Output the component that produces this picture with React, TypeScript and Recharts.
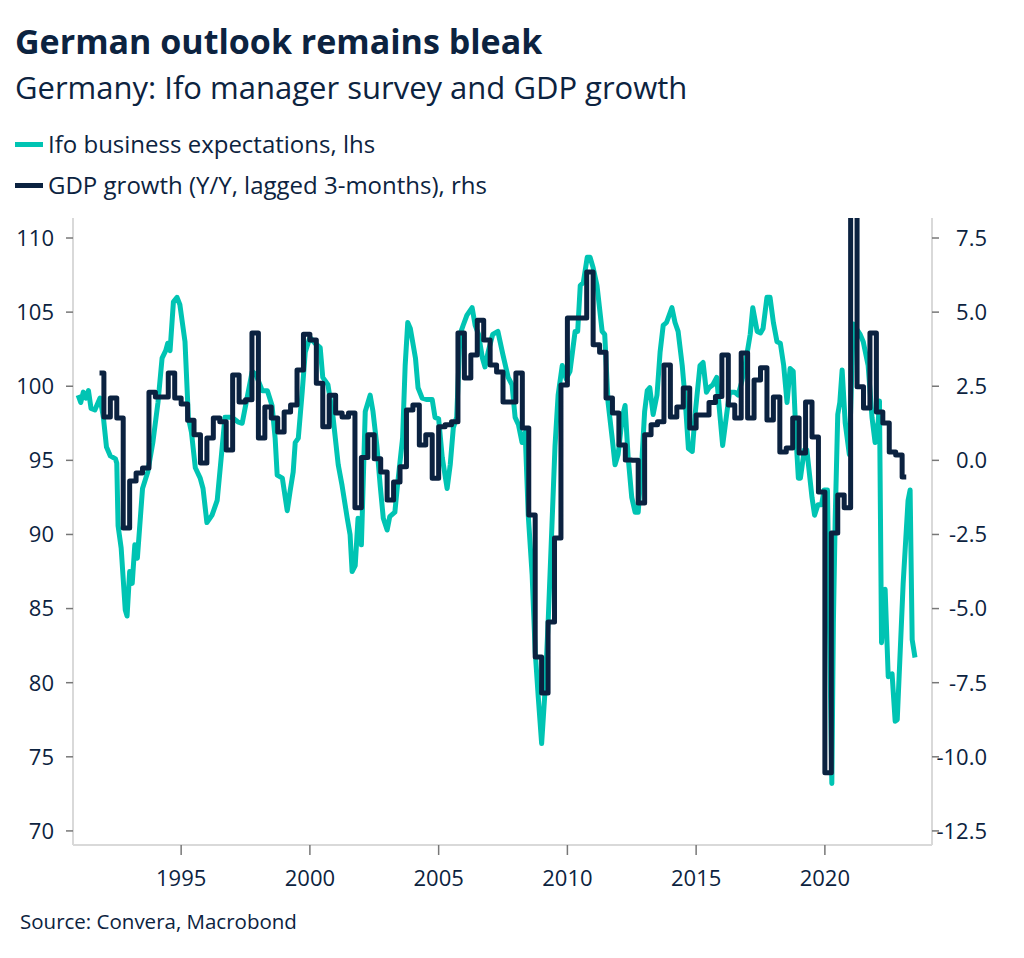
import { LineChart, Line, XAxis, YAxis } from "recharts";

// Ifo business expectations (lhs) at irregular dates
const ifoDates = [
  1991.0, 1991.1, 1991.2, 1991.3, 1991.4, 1991.5, 1991.65, 1991.85, 1991.98, 1992.1,
  1992.25, 1992.45, 1992.5, 1992.55, 1992.67, 1992.83, 1992.9, 1993.0, 1993.1, 1993.2,
  1993.3, 1993.5, 1993.7, 1993.9, 1994.1, 1994.26, 1994.4, 1994.48, 1994.57, 1994.7,
  1994.84, 1994.95, 1995.15, 1995.28, 1995.4, 1995.55, 1995.74, 1995.85, 1996.0, 1996.2,
  1996.4, 1996.6, 1996.7, 1996.98, 1997.2, 1997.37, 1997.56, 1997.76, 1997.9, 1998.15,
  1998.35, 1998.53, 1998.65, 1998.73, 1998.93, 1999.12, 1999.23, 1999.35, 1999.43, 1999.55,
  1999.7, 1999.82, 2000.0, 2000.2, 2000.4, 2000.5, 2000.7, 2000.9, 2001.1, 2001.25,
  2001.45, 2001.56, 2001.64, 2001.76, 2001.87, 2002.0, 2002.15, 2002.34, 2002.45, 2002.6,
  2002.73, 2002.85, 2003.0, 2003.1, 2003.3, 2003.4, 2003.6, 2003.7, 2003.8, 2003.9,
  2004.1, 2004.2, 2004.36, 2004.55, 2004.75, 2004.86, 2005.0, 2005.14, 2005.33, 2005.45,
  2005.57, 2005.7, 2005.83, 2005.95, 2006.1, 2006.3, 2006.42, 2006.55, 2006.7, 2006.8,
  2006.92, 2007.1, 2007.3, 2007.5, 2007.7, 2007.85, 2007.97, 2008.1, 2008.24, 2008.36,
  2008.48, 2008.63, 2008.75, 2008.87, 2009.0, 2009.13, 2009.26, 2009.4, 2009.52, 2009.64,
  2009.8, 2009.95, 2010.1, 2010.3, 2010.4, 2010.5, 2010.62, 2010.77, 2010.88, 2011.0,
  2011.15, 2011.35, 2011.45, 2011.58, 2011.74, 2011.85, 2011.97, 2012.13, 2012.24, 2012.36,
  2012.5, 2012.63, 2012.75, 2012.9, 2013.0, 2013.1, 2013.2, 2013.33, 2013.48, 2013.6,
  2013.72, 2013.85, 2014.06, 2014.18, 2014.3, 2014.46, 2014.57, 2014.7, 2014.85, 2014.96,
  2015.15, 2015.27, 2015.4, 2015.5, 2015.65, 2015.8, 2015.9, 2016.03, 2016.2, 2016.3,
  2016.5, 2016.63, 2016.77, 2016.9, 2017.1, 2017.2, 2017.37, 2017.5, 2017.6, 2017.75,
  2017.87, 2018.0, 2018.14, 2018.27, 2018.4, 2018.53, 2018.65, 2018.77, 2018.88, 2018.97,
  2019.05, 2019.2, 2019.3, 2019.5, 2019.6, 2019.73, 2019.87, 2019.97, 2020.1, 2020.27,
  2020.33, 2020.4, 2020.5, 2020.58, 2020.67, 2020.79, 2020.95, 2021.1, 2021.37, 2021.49,
  2021.68, 2021.83, 2021.95, 2022.07, 2022.12, 2022.2, 2022.34, 2022.46, 2022.61, 2022.73,
  2022.81, 2023.04, 2023.23, 2023.31, 2023.39, 2023.5,
];
const ifoValues = [
  99.4, 98.9, 99.6, 99.2, 99.7, 98.5, 98.4, 99.2, 97.9, 95.9,
  95.3, 95.1, 94.8, 90.6, 89.1, 84.9, 84.5, 87.5, 86.7, 89.3,
  88.4, 93.1, 94.2, 96.2, 98.9, 101.9, 102.4, 102.9, 102.4, 105.7,
  106.0, 105.5, 103.0, 97.9, 96.9, 94.5, 93.8, 93.1, 90.8, 91.3,
  92.3, 96.0, 97.9, 97.9, 97.6, 97.5, 99.2, 101.0, 100.8, 99.7,
  99.7, 98.7, 96.5, 94.0, 93.8, 91.6, 92.9, 94.2, 96.2, 96.5,
  99.6, 102.3, 103.3, 102.9, 102.6, 100.6, 100.1, 97.9, 94.7, 93.3,
  91.1, 90.0, 87.5, 87.9, 91.1, 89.3, 98.3, 99.4, 98.3, 96.0,
  93.3, 91.1, 90.3, 91.2, 91.5, 93.3, 96.5, 101.4, 104.3, 103.9,
  101.9, 99.9, 99.2, 99.1, 99.1, 97.9, 97.8, 95.2, 93.1, 94.7,
  97.2, 97.9, 103.5, 104.1, 104.8, 105.3, 104.1, 103.5, 101.9, 101.3,
  102.3, 103.5, 103.7, 102.1, 100.6, 100.1, 97.9, 97.4, 96.2, 96.9,
  91.3, 87.3, 82.1, 79.0, 75.9, 79.4, 84.4, 90.6, 96.0, 99.4,
  101.4, 100.5, 101.0, 103.7, 103.7, 106.8, 107.0, 108.7, 108.7, 108.0,
  106.8, 103.7, 103.5, 98.9, 96.5, 94.7, 95.4, 97.9, 98.7, 95.2,
  92.5, 91.5, 91.5, 95.2, 98.3, 99.7, 99.9, 98.1, 99.4, 102.3,
  104.1, 104.3, 105.3, 104.3, 103.7, 101.4, 99.2, 95.8, 95.6, 98.1,
  101.4, 101.6, 99.6, 99.9, 100.1, 100.6, 98.5, 96.0, 98.3, 99.6,
  99.6, 99.4, 100.3, 101.4, 103.5, 105.3, 103.7, 103.6, 103.9, 106.0,
  106.0, 104.3, 103.0, 102.9, 101.4, 98.9, 101.2, 101.0, 96.5, 93.8,
  93.8, 95.7, 95.7, 92.5, 91.3, 92.0, 92.0, 93.0, 93.0, 73.2,
  84.0, 91.0, 98.1, 98.9, 101.1, 97.5, 95.4, 104.2, 103.5, 103.0,
  101.4, 97.9, 96.2, 97.6, 99.0, 82.7, 86.3, 80.4, 80.6, 77.4,
  77.5, 86.7, 92.3, 93.0, 82.9, 81.7,
];

// GDP growth Y/Y lagged 3 months (rhs), quarterly steps
const gdpDates = [
  1991.83, 1992.0, 1992.25, 1992.5, 1992.75, 1993.0, 1993.25, 1993.5, 1993.75, 1994.0,
  1994.25, 1994.5, 1994.75, 1995.0, 1995.25, 1995.5, 1995.75, 1996.0, 1996.25, 1996.5,
  1996.75, 1997.0, 1997.25, 1997.5, 1997.75, 1998.0, 1998.25, 1998.5, 1998.75, 1999.0,
  1999.25, 1999.5, 1999.75, 2000.0, 2000.25, 2000.5, 2000.75, 2001.0, 2001.25, 2001.5,
  2001.75, 2002.0, 2002.25, 2002.5, 2002.75, 2003.0, 2003.25, 2003.5, 2003.75, 2004.0,
  2004.25, 2004.5, 2004.75, 2005.0, 2005.25, 2005.5, 2005.75, 2006.0, 2006.25, 2006.5,
  2006.75, 2007.0, 2007.25, 2007.5, 2007.75, 2008.0, 2008.25, 2008.5, 2008.75, 2009.0,
  2009.25, 2009.5, 2009.75, 2010.0, 2010.25, 2010.5, 2010.75, 2011.0, 2011.25, 2011.5,
  2011.75, 2012.0, 2012.25, 2012.5, 2012.75, 2013.0, 2013.25, 2013.5, 2013.75, 2014.0,
  2014.25, 2014.5, 2014.75, 2015.0, 2015.25, 2015.5, 2015.75, 2016.0, 2016.25, 2016.5,
  2016.75, 2017.0, 2017.25, 2017.5, 2017.75, 2018.0, 2018.25, 2018.5, 2018.75, 2019.0,
  2019.25, 2019.5, 2019.75, 2020.0, 2020.25, 2020.5, 2020.75, 2021.0, 2021.25, 2021.5,
  2021.75, 2022.0, 2022.25, 2022.5, 2022.75, 2023.0, 2023.16,
];
const gdpValues = [
  2.95, 1.46, 2.1, 1.43, -2.28, -0.7, -0.43, -0.26, 2.3, 2.14,
  2.14, 2.95, 2.1, 1.9, 1.35, 0.86, -0.09, 0.75, 1.43, 1.3,
  0.35, 2.88, 1.97, 2.04, 4.3, 0.75, 1.8, 1.43, 0.96, 1.63,
  1.87, 3.05, 4.25, 4.06, 2.6, 1.13, 2.2, 1.6, 1.46, 1.6,
  -1.6, 0.1, 0.86, 0.05, -0.39, -1.34, -0.73, -0.22, 1.7, 1.87,
  0.52, 0.86, -0.6, 1.13, 1.2, 1.3, 4.3, 2.78, 3.55, 4.73,
  4.06, 3.22, 2.98, 1.97, 1.97, 2.95, 1.09, -1.84, -6.63, -7.85,
  -5.45, -2.62, 2.54, 4.8, 4.8, 4.8, 6.35, 3.9, 3.65, 2.1,
  1.6, 0.52, 0.01, 0.0, -1.44, 0.86, 1.2, 1.3, 3.22, 1.46,
  1.8, 2.44, 1.09, 1.53, 1.53, 1.95, 2.15, 3.55, 1.87, 1.43,
  3.62, 1.43, 2.71, 3.12, 1.36, 2.14, 0.28, 0.42, 1.43, 0.25,
  1.97, 0.79, -1.07, -10.54, -2.45, -1.17, -1.6, 10.3, 2.48, 1.77,
  4.3, 1.63, 1.26, 0.28, 0.18, -0.56, -0.56,
];

const xTicks = [1995, 2000, 2005, 2010, 2015, 2020];
const leftTicks = [70, 75, 80, 85, 90, 95, 100, 105, 110];
const rightTicks = [-12.5, -10, -7.5, -5, -2.5, 0, 2.5, 5, 7.5];

const TEAL = "#00c4b3";
const NAVY = "#0b2240";
const TEXT = "#0c2340";
const FONT = "'Open Sans', 'Noto Sans', sans-serif";

const ifoData = ifoDates.map((d, i) => ({ date: d, ifo: ifoValues[i] }));
const gdpData = gdpDates.map((d, i) => ({ date: d, gdp: gdpValues[i] }));

const RightTick = (props: any) => {
  const { x, y, payload } = props;
  return (
    <text x={x + 46} y={y} dy="0.36em" textAnchor="end" fill={TEXT} fontSize={22} fontFamily={FONT}>
      {payload.value.toFixed(1)}
    </text>
  );
};

export default function App() {
  const tickStyle = { fill: TEXT, fontSize: 22, fontFamily: FONT };
  return (
    <div style={{ position: "absolute", left: 0, top: 0, width: 1024, height: 958, background: "#fff", fontFamily: FONT, color: TEXT }}>
      <LineChart width={1024} height={958} margin={{ top: 218, right: 0, bottom: 53, left: 0 }}>
        <XAxis
          dataKey="date"
          type="number"
          domain={[1990.8, 2024.16]}
          ticks={xTicks}
          allowDataOverflow
          tickSize={10}
          tickMargin={15}
          height={60}
          axisLine={{ stroke: "#d9d9d9", strokeWidth: 2 }}
          tickLine={{ stroke: "#777", strokeWidth: 1.5 }}
          tick={tickStyle}
        />
        <YAxis
          yAxisId="left"
          domain={[69.05, 111.35]}
          ticks={leftTicks}
          allowDataOverflow
          width={73}
          tickSize={7}
          tickMargin={12}
          axisLine={{ stroke: "#d9d9d9", strokeWidth: 2 }}
          tickLine={{ stroke: "#777", strokeWidth: 1.5 }}
          tick={tickStyle}
        />
        <YAxis
          yAxisId="right"
          orientation="right"
          domain={[-12.975, 8.175]}
          ticks={rightTicks}
          allowDataOverflow
          width={92}
          tickSize={7}
          tickMargin={2}
          axisLine={{ stroke: "#d9d9d9", strokeWidth: 2 }}
          tickLine={{ stroke: "#777", strokeWidth: 1.5 }}
          tick={<RightTick />}
        />
        <Line
          yAxisId="left"
          data={ifoData}
          dataKey="ifo"
          type="linear"
          stroke={TEAL}
          strokeWidth={5}
          strokeLinejoin="round"
          dot={false}
          isAnimationActive={false}
        />
        <Line
          yAxisId="right"
          data={gdpData}
          dataKey="gdp"
          type="stepAfter"
          stroke={NAVY}
          strokeWidth={5}
          strokeLinejoin="round"
          dot={false}
          isAnimationActive={false}
        />
      </LineChart>

      <div style={{ position: "absolute", left: 15, top: 24, fontSize: 34, fontWeight: 700, lineHeight: 1, whiteSpace: "nowrap" }}>
        German outlook remains bleak
      </div>
      <div style={{ position: "absolute", left: 15, top: 72, fontSize: 31, lineHeight: 1, whiteSpace: "nowrap" }}>
        Germany: Ifo manager survey and GDP growth
      </div>
      {[
        { color: TEAL, label: "Ifo business expectations, lhs", top: 132 },
        { color: NAVY, label: "GDP growth (Y/Y, lagged 3-months), rhs", top: 173 },
      ].map((item) => (
        <div key={item.label} style={{ position: "absolute", left: 15, top: item.top, display: "flex", alignItems: "center", fontSize: 24, lineHeight: "24px", whiteSpace: "nowrap" }}>
          <span style={{ display: "inline-block", width: 28, height: 5, background: item.color, marginRight: 5 }} />
          {item.label}
        </div>
      ))}
      <div style={{ position: "absolute", left: 20, top: 911, fontSize: 20.5, lineHeight: 1, whiteSpace: "nowrap" }}>
        Source: Convera, Macrobond
      </div>
    </div>
  );
}
